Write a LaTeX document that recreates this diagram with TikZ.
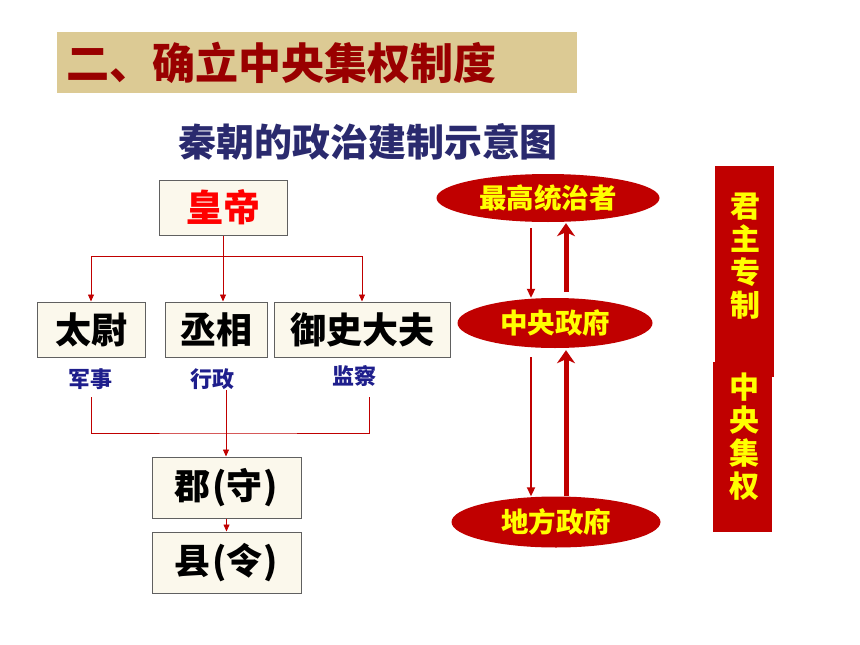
\documentclass[tikz,border=0pt]{standalone}
\usepackage{fontspec}
\setmainfont{Noto Sans CJK SC}
\usetikzlibrary{arrows.meta,shapes.geometric}
\definecolor{bandtan}{HTML}{DCCA94}
\definecolor{titlered}{HTML}{990000}
\definecolor{subnavy}{HTML}{2A2A6E}
\definecolor{labelblue}{HTML}{1E1E8C}
\definecolor{boxfill}{HTML}{FBF8EC}
\definecolor{boxline}{HTML}{606060}
\definecolor{qinred}{HTML}{C00000}
\definecolor{qinyellow}{HTML}{FFFF00}

\begin{document}
\begin{tikzpicture}[x=1pt,y=1pt]
\tikzstyle{every node}+=[inner sep=0pt]
\tikzstyle{box}=[draw=boxline,fill=boxfill,line width=1pt,font=\fontsize{36}{36}\selectfont\bfseries]
\tikzstyle{duty}=[text=labelblue,font=\fontsize{22}{22}\selectfont\bfseries]
\tikzstyle{oval}=[ellipse,fill=qinred,text=qinyellow,font=\fontsize{27.5}{27.5}\selectfont\bfseries]
\tikzstyle{column}=[text=qinyellow,align=center,font=\fontsize{30}{33}\selectfont\bfseries]
\tikzstyle{link}=[qinred,line width=0.8pt]
\tikzstyle{tip}=[-{Triangle[length=7pt,width=6pt]}]
\tikzstyle{down}=[qinred,line width=2pt,-{Triangle[length=9pt,width=8pt]}]
\tikzstyle{up}=[qinred,line width=5pt,-{Stealth[length=13pt,width=18pt,inset=4pt]}]
\useasboundingbox (0,0) rectangle (860,-645);
% heading
\fill [bandtan] (57,-32) rectangle (577,-93);
\node (title) [anchor=west,text=titlered,font=\fontsize{43}{43}\selectfont\bfseries] at (66,-63) {二、确立中央集权制度};
\node (subtitle) [text=subnavy,font=\fontsize{38}{38}\selectfont\bfseries] at (368,-142) {秦朝的政治建制示意图};
% left chart
\node (huangdi) [box,minimum width=128pt,minimum height=55pt,text=red,font=\fontsize{37}{37}\selectfont\bfseries] at (223,-207.5) {皇帝};
\node (taiwei) [box,minimum width=108pt,minimum height=55pt] at (91,-329.5) {太尉};
\node (chengxiang) [box,minimum width=102pt,minimum height=55pt] at (216,-329.5) {丞相};
\node (yushi) [box,minimum width=176pt,minimum height=55pt] at (362,-329.5) {御史大夫};
\node (junshi) [duty] at (90,-379) {军事};
\node (xingzheng) [duty] at (212,-379) {行政};
\node (jiancha) [duty] at (354,-376) {监察};
\node (jun) [box,minimum width=149pt,minimum height=61pt] at (226.5,-487.5) {郡\hspace{2pt}(守\hspace{1pt})};
\node (xian) [box,minimum width=149pt,minimum height=61pt] at (226.5,-562.5) {县\hspace{2pt}(令\hspace{1pt})};
\coordinate (fork) at (223,-256);
\coordinate (left) at (91,-397);
\coordinate (right) at (369,-397);
\coordinate (join) at (226,-433);
\coordinate (drop) at (226,-390);
\draw [link,tip] (huangdi.south) -- (huangdi.south |- chengxiang.north);
\draw [link,tip] (fork) -| (taiwei.north);
\draw [link,tip] (fork) -| (yushi.north);
\draw [link] (left) |- (join) -| (right);
\draw [link,tip] (drop) -- (drop |- jun.north);
\draw [link,tip] (jun.south) -- (xian.north);
% right chart
\node (zuigao) [oval,minimum width=223pt,minimum height=48pt] at (548,-198) {最高统治者};
\node (zhongyang) [oval,minimum width=195pt,minimum height=50pt] at (555,-323) {中央政府};
\node (difang) [oval,minimum width=209pt,minimum height=51pt] at (556,-522) {地方政府};
\coordinate (lanea) at (531,0);
\coordinate (laneb) at (566,0);
\draw [down] ([yshift=-6pt]zuigao.south -| lanea) -- (zhongyang.north -| lanea);
\draw [up] ([yshift=6pt]zhongyang.north -| laneb) -- ([yshift=-1pt]zuigao.south -| laneb);
\draw [down] ([yshift=-9pt]zhongyang.south -| lanea) -- (difang.north -| lanea);
\draw [up] (difang.north -| laneb) -- ([yshift=-2pt]zhongyang.south -| laneb);
% side bars
\fill [qinred] (713,-362) rectangle (772,-532);
\fill [qinred] (715,-166) rectangle (774,-377);
\node (junzhu) [column] at (745,-256) {君\\主\\专\\制};
\node (jiquan) [column] at (744,-437) {中\\央\\集\\权};
\end{tikzpicture}
\end{document}
